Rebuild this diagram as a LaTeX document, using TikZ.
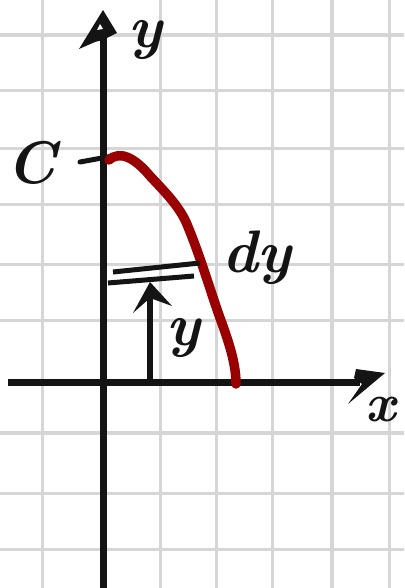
\documentclass[tikz,border=0pt]{standalone}
\usetikzlibrary{arrows.meta}
\begin{document}
\begin{tikzpicture}[x=1pt,y=-1pt,
  gridline/.style={draw=black!16,line width=3pt},
  gridthick/.style={draw=black!16,line width=4.5pt},
  axis/.style={draw=black!92,line width=7pt},
  curve/.style={draw=red!60!black,line width=9.5pt,line cap=round,line join=round},
  hand/.style={font=\fontsize{60}{64}\selectfont\bfseries\itshape,text=black!92,inner sep=0pt}]
\useasboundingbox (0,0) rectangle (404,588);
\fill[white] (0,0) rectangle (404,588);
% grid
\foreach \gx in {42,160,216,272,389} \draw[gridline] (\gx,0) -- (\gx,588);
\draw[gridthick] (332,0) -- (332,588);
\foreach \gy in {91,149,204,264,320,493,549} \draw[gridline] (0,\gy) -- (404,\gy);
\draw[gridthick] (0,35) -- (404,35);
\draw[gridthick] (0,433) -- (404,433);
% axes
\coordinate (ybot) at (103,588);
\coordinate (ytop) at (103,30);
\coordinate (xleft) at (8,382);
\coordinate (xend) at (360,382);
\draw[axis] (ybot) -- (ytop);
\draw[axis] (xleft) -- (xend);
\fill[black!92] (103,10) -- (79,49) -- (95,42) -- (103,40) -- (111,36) -- (117,33) -- cycle;
\fill[white] (97,30) -- (100,24) -- (103,29) -- cycle;
\fill[black!92] (385,373) -- (356,369) -- (354,378) -- (362,384) -- (348,404) -- cycle;
% C tick
\coordinate (ctickL) at (80,162);
\coordinate (ctickR) at (113,156);
\draw[black!92,line width=5pt,line cap=round] (ctickL) -- (ctickR);
% red curve
\coordinate (c0) at (109,160);
\coordinate (c1) at (236,384);
\draw[curve] (c0) .. controls (120,150) and (135,158) .. (150,176)
  .. controls (165,192) and (178,205) .. (186,222)
  .. controls (200,255) and (210,290) .. (220,318)
  .. controls (230,345) and (236,365) .. (c1);
% dy strip
\coordinate (s1a) at (113,272);
\coordinate (s1b) at (200,263);
\coordinate (s2a) at (108,283);
\coordinate (s2b) at (194,276);
\draw[black!92,line width=5pt] (s1a) -- (s1b);
\draw[black!92,line width=5pt] (s2a) -- (s2b);
% y arrow
\coordinate (yarrB) at (150,385);
\coordinate (yarrT) at (150,282);
\draw[black!92,line width=6pt] (yarrB) -- (150,292);
\fill[black!92] (yarrT) -- (133,313) -- (150,298) -- (172,306) -- cycle;
% labels
\node[hand] (ylab) at (145,40) {y};
\node[hand] (clab) at (31,163) {C};
\node[hand] (dylab) at (257,258) {dy};
\node[hand] (yinner) at (183,338) {y};
\node[hand,font=\fontsize{54}{58}\selectfont\bfseries\itshape] (xlab) at (381,410) {x};
\end{tikzpicture}
\end{document}
